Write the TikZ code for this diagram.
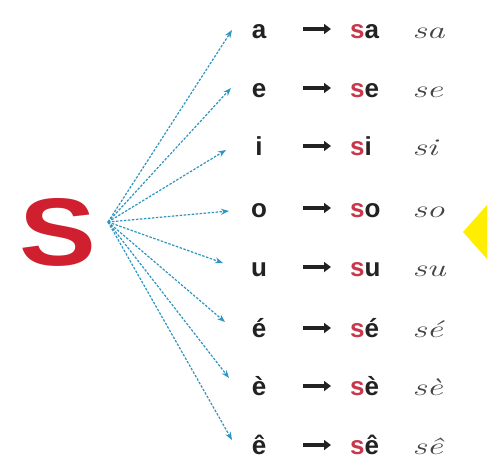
\documentclass[tikz,border=0pt]{standalone}
\usepackage{fontspec}
\setmainfont{Liberation Sans}
\usetikzlibrary{arrows.meta}
\definecolor{bigred}{HTML}{D0202F}
\definecolor{sred}{HTML}{C8384A}
\definecolor{fanblue}{HTML}{2E95C0}
\definecolor{txt}{HTML}{222222}
\definecolor{cursgray}{HTML}{444444}
\definecolor{yel}{HTML}{FFEE00}
\tikzset{
  vowel/.style={font=\fontsize{26}{28}\bfseries\selectfont, text=txt, inner sep=0pt, anchor=base},
  syl/.style={font=\fontsize{26}{28}\bfseries\selectfont, text=txt, inner sep=0pt, anchor=base west},
  curs/.style={font=\fontfamily{lmr}\fontsize{24}{26}\itshape\selectfont, text=cursgray, inner sep=0pt, anchor=base west, xscale=1.5},
  fan/.style={draw=fanblue, line width=1.2pt, dash pattern=on 2.5pt off 1.5pt, -{Stealth[length=8pt,width=6pt,fill=fanblue]}},
  bigarrow/.style={draw=txt, line width=3.4pt, -{Triangle[length=7pt,width=10pt]}}
}
\begin{document}
\begin{tikzpicture}[x=1pt,y=-1pt]
\useasboundingbox (0,0) rectangle (487,469);
\fill[white] (0,0) rectangle (487,469);
% big S
\node[font=\fontsize{96}{100}\bfseries\selectfont, text=bigred, inner sep=0pt, anchor=base, xscale=1.2] (S) at (58,265) {S};
\coordinate (o) at (108,222);
% rows
\foreach \n/\v/\y/\ex/\ey [count=\i] in {a/a/38/232/30, e/e/97/231/88, i/i/155/226/150, o/o/217/229/211, u/u/276/223/263, ea/é/337/225/322, eg/è/395/229/378, ec/ê/454/232/440}{
  \node[vowel] (v\n) at (259,\y) {\v};
  \coordinate (as\n) at (303,\y-9);
  \coordinate (ae\n) at (331,\y-9);
  \draw[bigarrow] (as\n) -- (ae\n);
  \node[syl] (s\n) at (350,\y) {\textcolor{sred}{s}\v};
  \node[curs] (c\n) at (412,\y) {s\v};
  \coordinate (end\n) at (\ex,\ey);
  \draw[fan] (o) -- (end\n);
}
% yellow triangle
\fill[yel] (463,232) -- (487,205) -- (487,259) -- cycle;
\end{tikzpicture}
\end{document}
